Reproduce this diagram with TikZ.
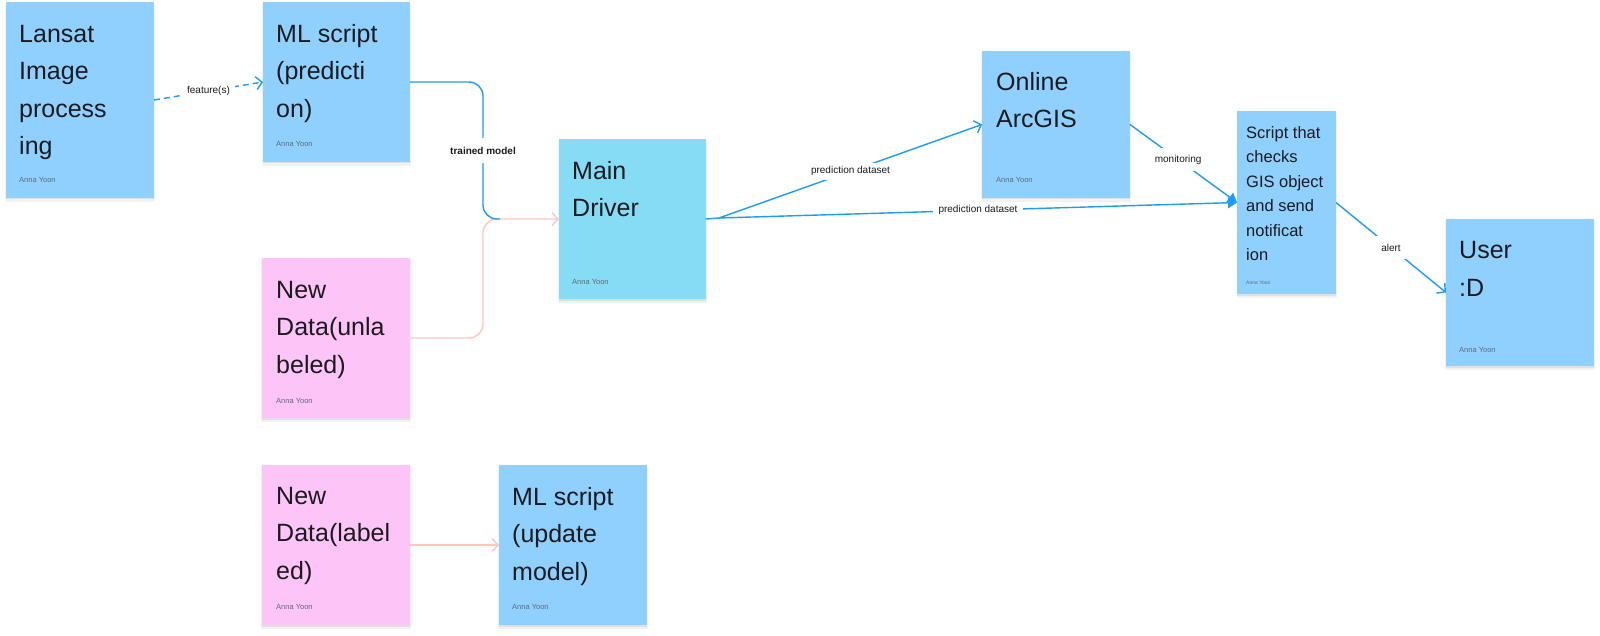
\documentclass[tikz,border=0pt]{standalone}
\usepackage{fontspec}
\setmainfont{Liberation Sans}
\usetikzlibrary{arrows.meta,calc,shadows}
\definecolor{boxblue}{HTML}{8FD0FF}
\definecolor{boxcyan}{HTML}{87DCF5}
\definecolor{boxpink}{HTML}{FCC4F7}
\definecolor{lineblue}{HTML}{1E9BF5}
\definecolor{linepink}{HTML}{FFC6BF}
\definecolor{txtdark}{HTML}{1B1B1F}
\definecolor{authgray}{HTML}{5F6B78}
\begin{document}
\begin{tikzpicture}[x=1pt,y=-1pt,
  card/.style={rectangle, draw=none, inner sep=0pt, outer sep=0pt, anchor=north west,
    general shadow={fill=black, opacity=0.05, shadow xshift=0pt, shadow yshift=-3pt, shadow scale=1.01},
    general shadow={fill=black, opacity=0.07, shadow xshift=0pt, shadow yshift=-1.5pt}},
  bigtxt/.style={anchor=north west, inner sep=0pt, align=left, text=txtdark, font=\fontsize{25}{37.5}\selectfont},
  smalltxt/.style={anchor=north west, inner sep=0pt, align=left, text=txtdark, font=\fontsize{16.5}{24.5}\selectfont},
  author/.style={anchor=base west, inner sep=0pt, text=authgray, font=\fontsize{7.5}{9}\selectfont},
  tinyauthor/.style={anchor=base west, inner sep=0pt, text=authgray, font=\fontsize{5}{6}\selectfont},
  conn/.style={draw=lineblue, line width=1.4pt},
  pconn/.style={draw=linepink, line width=1.4pt},
  opentip/.style={-{Straight Barb[length=6pt,width=13pt]}},
  filledtip/.style={-{Triangle[length=9pt,width=11pt]}},
  lbl/.style={fill=white, inner xsep=5pt, inner ysep=6pt, text=txtdark, font=\fontsize{10}{12}\selectfont},
]
\fill[white] (0,0) rectangle (1600,636);
\useasboundingbox (0,0) rectangle (1600,636);

% cards
\node[card, fill=boxblue, minimum width=148pt, minimum height=196pt] (lans) at (6,2) {};
\node[card, fill=boxblue, minimum width=147pt, minimum height=160pt] (mlp) at (263,2) {};
\node[card, fill=boxcyan, minimum width=147pt, minimum height=160pt] (md) at (559,139) {};
\node[card, fill=boxpink, minimum width=148pt, minimum height=160pt] (nd1) at (262,258) {};
\node[card, fill=boxblue, minimum width=148pt, minimum height=147pt] (arc) at (982,51) {};
\node[card, fill=boxblue, minimum width=99pt, minimum height=183pt] (scr) at (1237,111) {};
\node[card, fill=boxblue, minimum width=148pt, minimum height=147pt] (usr) at (1446,219) {};
\node[card, fill=boxpink, minimum width=148pt, minimum height=160pt] (nd2) at (262,465) {};
\node[card, fill=boxblue, minimum width=148pt, minimum height=160pt] (mlu) at (499,465) {};

% card texts
\node[bigtxt] (lanst) at ($(lans.north west)+(13,10)$) {\rule{0pt}{30pt}Lansat\\Image\\process\\ing};
\node[bigtxt] (mlpt) at ($(mlp.north west)+(13,10)$) {\rule{0pt}{30pt}ML script\\(predicti\\on)};
\node[bigtxt] (mdt) at ($(md.north west)+(13,10)$) {\rule{0pt}{30pt}Main\\Driver};
\node[bigtxt] (nd1t) at ($(nd1.north west)+(14,10)$) {\rule{0pt}{30pt}New\\Data(unla\\beled)};
\node[bigtxt] (arct) at ($(arc.north west)+(14,9)$) {\rule{0pt}{30pt}Online\\ArcGIS};
\node[smalltxt] (scrt) at ($(scr.north west)+(9,7)$) {\rule{0pt}{20pt}Script that\\checks\\GIS object\\and send\\notificat\\ion};
\node[bigtxt, font=\fontsize{25}{38}\selectfont] (usrt) at ($(usr.north west)+(13,9)$) {\rule{0pt}{30pt}User\\:D};
\node[bigtxt] (nd2t) at ($(nd2.north west)+(14,9)$) {\rule{0pt}{30pt}New\\Data(label\\ed)};
\node[bigtxt] (mlut) at ($(mlu.north west)+(13,10)$) {\rule{0pt}{30pt}ML script\\(update\\model)};

% authors
\node[author] (lansa) at ($(lans.south west)+(13,-15)$) {Anna Yoon};
\node[author] (mlpa) at ($(mlp.south west)+(13,-15)$) {Anna Yoon};
\node[author] (mda) at ($(md.south west)+(13,-15)$) {Anna Yoon};
\node[author] (nd1a) at ($(nd1.south west)+(14,-15)$) {Anna Yoon};
\node[author] (arca) at ($(arc.south west)+(14,-15)$) {Anna Yoon};
\node[tinyauthor] (scra) at ($(scr.south west)+(9,-10)$) {Anna Yoon};
\node[author] (usra) at ($(usr.south west)+(13,-14)$) {Anna Yoon};
\node[author] (nd2a) at ($(nd2.south west)+(14,-16)$) {Anna Yoon};
\node[author] (mlua) at ($(mlu.south west)+(13,-16)$) {Anna Yoon};

% connectors
\draw[conn, dash pattern=on 6pt off 4pt, opentip] (lans.east) -- node[lbl, inner ysep=4pt] (lf) {feature(s)} (mlp.west);

\coordinate (tmend) at (500,219);
\draw[pconn, rounded corners=14pt, opentip] (nd1.east) -- (483,338) -- (483,219) -- (md.west);
\draw[conn, rounded corners=14pt] (mlp.east) -- (483,82) -- node[lbl, inner ysep=9pt, font=\fontsize{10}{12}\selectfont\bfseries] (ltm) {trained model} (483,219) -- (tmend);

\coordinate (split) at (719,218);
\draw[conn] (md.east) -- (split);
\draw[conn, opentip] (split) -- node[lbl, inner ysep=4pt] (lpd1) {prediction dataset} (arc.west);
\draw[conn, filledtip] (split) -- node[lbl, inner ysep=2pt, inner xsep=6pt] (lpd2) {prediction dataset} (scr.west);
\draw[conn, filledtip] (arc.east) -- node[lbl, pos=0.45, inner ysep=7pt] (lmon) {monitoring} (scr.west);
\draw[conn, opentip] (scr.east) -- node[lbl, inner ysep=8pt] (lal) {alert} (usr.west);
\draw[pconn, opentip] (nd2.east) -- (mlu.west);
\end{tikzpicture}
\end{document}
